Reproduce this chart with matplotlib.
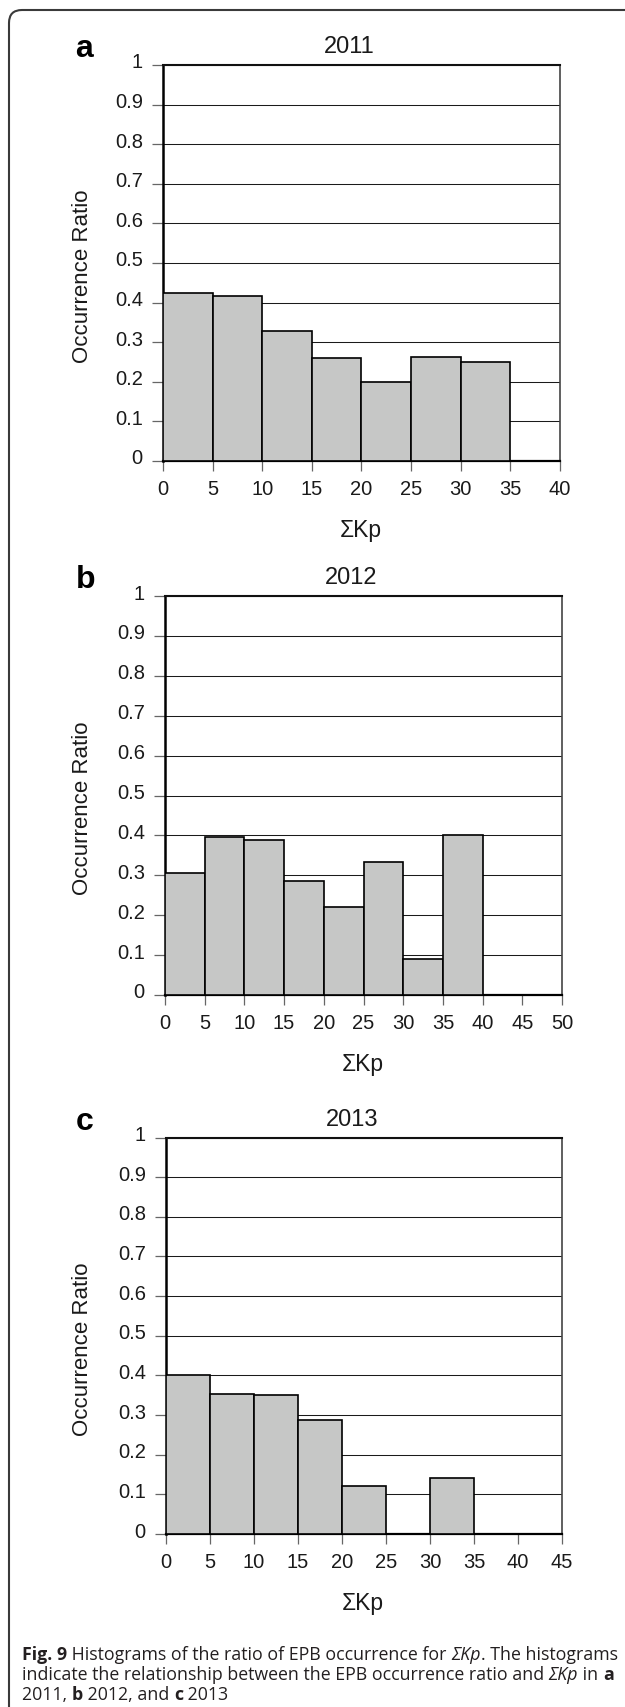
import matplotlib
matplotlib.use("Agg")
import matplotlib.pyplot as plt
from matplotlib.patches import FancyBboxPatch
from matplotlib.font_manager import FontProperties
from matplotlib.transforms import ScaledTranslation
import numpy as np

# ---- data -------------------------------------------------------------
years = ["2011", "2012", "2013"]
panel_letters = ["a", "b", "c"]
bin_width = 5
ratio_2011 = [0.425, 0.417, 0.329, 0.260, 0.200, 0.263, 0.250, 0.0]
ratio_2012 = [0.307, 0.395, 0.388, 0.286, 0.220, 0.333, 0.090, 0.400, 0.0, 0.0]
ratio_2013 = [0.402, 0.354, 0.350, 0.288, 0.120, 0.0, 0.142, 0.0, 0.0]
ytick_values = [0, 0.1, 0.2, 0.3, 0.4, 0.5, 0.6, 0.7, 0.8, 0.9, 1.0]
ytick_labels = ["0", "0.1", "0.2", "0.3", "0.4", "0.5", "0.6", "0.7", "0.8", "0.9", "1"]
x_label = "ΣKp"
y_label = "Occurrence Ratio"

caption_lines = [
    [("Fig. 9", "bold", "normal"),
     (" Histograms of the ratio of EPB occurrence for ", "normal", "normal"),
     ("ΣKp", "normal", "italic"),
     (". The histograms", "normal", "normal")],
    [("indicate the relationship between the EPB occurrence ratio and ", "normal", "normal"),
     ("ΣKp", "normal", "italic"),
     (" in ", "normal", "normal"),
     ("a", "bold", "normal")],
    [("2011, ", "normal", "normal"),
     ("b", "bold", "normal"),
     (" 2012, and ", "normal", "normal"),
     ("c", "bold", "normal"),
     (" 2013", "normal", "normal")],
]

# ---- layout (pixels, origin top-left) --------------------------------
W, H, DPI = 625, 1708, 100
CHART_FONT = "Liberation Sans"
CAP_FONT = "Open Sans"
BAR_COLOR = "#c6c7c6"
TEXT_COLOR = "#1a1a1a"

# axes boxes: (left, top, right, bottom)
axes_boxes = [
    (163, 66, 560, 462),
    (165, 597, 562, 996),
    (166, 1138.5, 562, 1535),
]
letter_x = 75.5
ylabel_x = 83
caption_x = 22
caption_baselines = [1660, 1680, 1700]
caption_width = 592


def fx(px):
    return px / W


def fy(py):
    return 1 - py / H


fig = plt.figure(figsize=(W / DPI, H / DPI), dpi=DPI)
fig.patch.set_facecolor("white")

# rounded outer frame that runs off the right and bottom edges
frame = FancyBboxPatch((0.09, -0.6), 7.5, (H - 11) / DPI + 0.6,
                       boxstyle="round,pad=0,rounding_size=0.13",
                       transform=fig.dpi_scale_trans, facecolor="none",
                       edgecolor="#3a3a3a", linewidth=1.5, zorder=0)
fig.patches.append(frame)

label_lift = ScaledTranslation(0, 5 / DPI, fig.dpi_scale_trans)

series = [ratio_2011, ratio_2012, ratio_2013]
for year, letter, vals, box in zip(years, panel_letters, series, axes_boxes):
    x0, y0, x1, y1 = box
    ax = fig.add_axes([fx(x0), fy(y1), (x1 - x0) / W, (y1 - y0) / H])
    n = len(vals)
    edges = np.arange(n) * bin_width
    xmax = n * bin_width
    ax.bar(edges, vals, width=bin_width, align="edge", color=BAR_COLOR,
           edgecolor="black", linewidth=1.2, zorder=3)
    ax.set_xlim(0, xmax)
    ax.set_ylim(0, 1)
    ax.set_yticks(ytick_values)
    ax.set_yticklabels(ytick_labels)
    ax.set_xticks(np.arange(0, xmax + 1, bin_width))
    ax.yaxis.grid(True, color="#1a1a1a", linewidth=0.75)
    ax.xaxis.grid(False)
    ax.set_axisbelow(True)
    ax.spines["left"].set_linewidth(1.8)
    ax.spines["left"].set_color("black")
    ax.spines["top"].set_linewidth(1.5)
    ax.spines["top"].set_color("#111111")
    ax.spines["right"].set_linewidth(1.2)
    ax.spines["right"].set_color("#444444")
    ax.spines["bottom"].set_linewidth(1.6)
    ax.spines["bottom"].set_color("black")
    ax.tick_params(axis="y", direction="out", length=8, width=0.9,
                   color="#666666", pad=6.5, labelsize=14.5)
    ax.tick_params(axis="x", direction="out", length=7.2, width=0.9,
                   color="#666666", pad=6, labelsize=14.5)
    for lab in ax.get_xticklabels():
        lab.set_fontfamily(CHART_FONT)
        lab.set_color(TEXT_COLOR)
    for lab in ax.get_yticklabels():
        lab.set_fontfamily(CHART_FONT)
        lab.set_color(TEXT_COLOR)
        lab.set_transform(lab.get_transform() + label_lift)

    cx = (x0 + x1) / 2
    cy = (y0 + y1) / 2
    fig.text(fx(cx - 12), fy(y0 - 13), year, family=CHART_FONT, fontsize=17,
             ha="center", va="baseline", color=TEXT_COLOR)
    fig.text(fx(letter_x), fy(y0 - 9), letter, family=CHART_FONT, fontsize=23,
             fontweight="bold", ha="left", va="baseline", color="black")
    fig.text(fx(cx - 1), fy(y1 + 75), x_label, family=CHART_FONT,
             fontsize=16.5, ha="center", va="baseline", color=TEXT_COLOR)
    fig.text(fx(ylabel_x), fy(cy + 12), y_label, family=CHART_FONT,
             fontsize=16, rotation=90, ha="center", va="center",
             color=TEXT_COLOR)

# ---- caption with mixed bold / italic runs ----------------------------
renderer = fig.canvas.get_renderer()


def run_width(text, weight, style, size):
    prop = FontProperties(family=CAP_FONT, weight=weight, style=style, size=size)
    w_full, _, _ = renderer.get_text_width_height_descent("|" + text + "|", prop, ismath=False)
    w_bars, _, _ = renderer.get_text_width_height_descent("||", prop, ismath=False)
    return w_full - w_bars


base_size = 12.0
line1_w = sum(run_width(t, w, s, base_size) for t, w, s in caption_lines[0])
cap_size = base_size * caption_width / line1_w

for runs, base in zip(caption_lines, caption_baselines):
    x = caption_x
    for text, weight, style in runs:
        fig.text(fx(x), fy(base), text, family=CAP_FONT, fontsize=cap_size,
                 fontweight=weight, fontstyle=style, ha="left", va="baseline",
                 color="#231f20")
        x += run_width(text, weight, style, cap_size)

fig.savefig("out.png", dpi=DPI, facecolor="white")
